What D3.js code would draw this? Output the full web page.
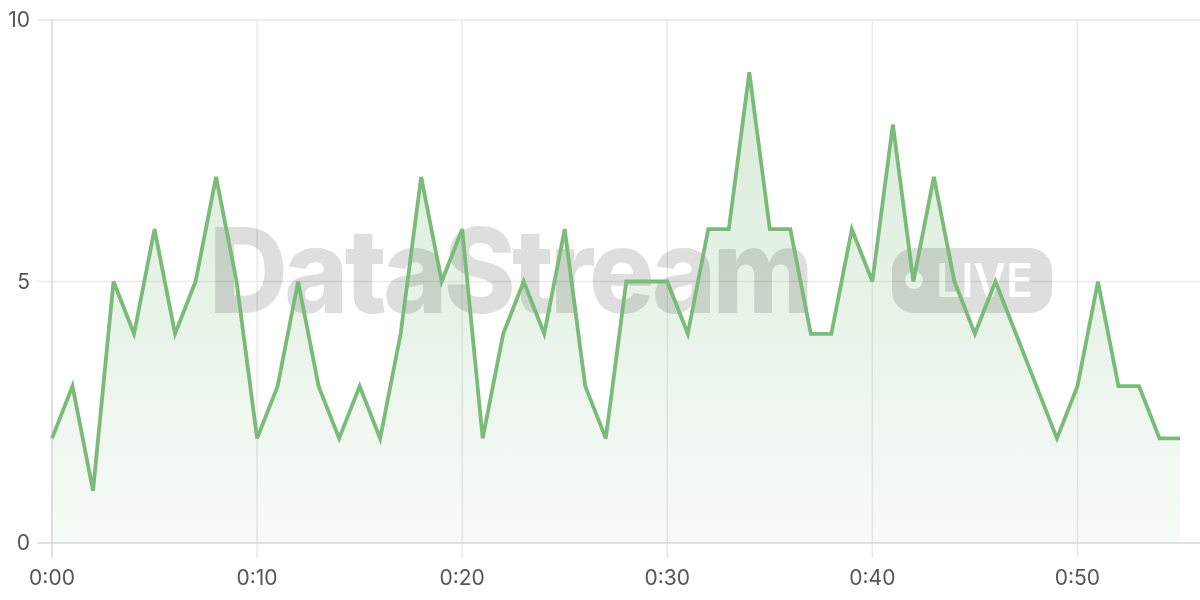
<!DOCTYPE html>
<html>
<head>
<meta charset="utf-8">
<script src="https://cdn.jsdelivr.net/npm/d3@7"></script>
<style>
  body { margin: 0; background: #fff; }
  svg { display: block; font-family: Inter, "Noto Sans", sans-serif; }
</style>
</head>
<body>
<div id="chart"></div>
<script>
// minutes since start, one sample per minute
var minutes = d3.range(0, 56);
var counts = [2, 3, 1, 5, 4, 6, 4, 5, 7, 5,
              2, 3, 5, 3, 2, 3, 2, 4, 7, 5,
              6, 2, 4, 5, 4, 6, 3, 2, 5, 5,
              5, 4, 6, 6, 9, 6, 6, 4, 4, 6,
              5, 8, 5, 7, 5, 4, 5, 4, 3, 2,
              3, 5, 3, 3, 2, 2];
var xTicks = [0, 10, 20, 30, 40, 50];
var yTicks = [0, 5, 10];

var width = 1200;
var height = 600;
var margin = {top: 20, right: 20, bottom: 57, left: 52};

var svg = d3.select('#chart')
    .append('svg')
    .attr('width', width)
    .attr('height', height);

var x = d3.scaleLinear()
    .domain([0, 55])
    .range([margin.left, width - margin.right]);

var y = d3.scaleLinear()
    .domain([0, 10])
    .range([height - margin.bottom, margin.top]);

var data = minutes.map(function(m, i) { return {m: m, v: counts[i]}; });

// gradient for area
var defs = svg.append('defs');
var grad = defs.append('linearGradient')
    .attr('id', 'areaGrad')
    .attr('x1', 0).attr('y1', 0).attr('x2', 0).attr('y2', 1);
grad.append('stop').attr('offset', '0%').attr('stop-color', '#7dbe7d').attr('stop-opacity', 0.3);
grad.append('stop').attr('offset', '100%').attr('stop-color', '#7dbe7d').attr('stop-opacity', 0.06);

// grid
var grid = svg.append('g');
grid.selectAll('line.h')
    .data(yTicks.filter(function(d) { return d > 0; }))
    .enter()
    .append('line')
    .attr('x1', margin.left - 15)
    .attr('x2', width)
    .attr('y1', function(d) { return y(d); })
    .attr('y2', function(d) { return y(d); })
    .attr('stroke', '#e9e9e9')
    .attr('stroke-width', 1.5);
grid.selectAll('line.v')
    .data(xTicks.filter(function(d) { return d > 0; }))
    .enter()
    .append('line')
    .attr('x1', function(d) { return x(d); })
    .attr('x2', function(d) { return x(d); })
    .attr('y1', margin.top)
    .attr('y2', y(0) + 15)
    .attr('stroke', '#e9e9e9')
    .attr('stroke-width', 1.5);

// area
svg.append('path')
    .datum(data)
    .attr('fill', 'url(#areaGrad)')
    .attr('d', d3.area()
        .x(function(d) { return x(d.m); })
        .y0(y(0))
        .y1(function(d) { return y(d.v); }));

// axes lines
svg.append('line')
    .attr('x1', x(0)).attr('x2', x(0))
    .attr('y1', margin.top).attr('y2', y(0) + 15)
    .attr('stroke', '#d6d6d6').attr('stroke-width', 1.5);
svg.append('line')
    .attr('x1', margin.left - 15).attr('x2', width)
    .attr('y1', y(0)).attr('y2', y(0))
    .attr('stroke', '#d6d6d6').attr('stroke-width', 1.5);

// watermark (between area and line)
var wm = svg.append('g').attr('opacity', 0.13);
wm.append('text')
    .attr('x', 209)
    .attr('y', 313)
    .attr('textLength', 601)
    .attr('lengthAdjust', 'spacingAndGlyphs')
    .attr('fill', '#000')
    .style('font-size', '118px')
    .style('font-weight', 800)
    .style('letter-spacing', '-4px')
    .text('DataStream');

var mask = defs.append('mask').attr('id', 'liveMask');
mask.append('rect').attr('x', 892).attr('y', 248).attr('width', 160).attr('height', 65).attr('rx', 22).attr('fill', '#fff');
mask.append('circle').attr('cx', 914).attr('cy', 280).attr('r', 9).attr('fill', '#000');
mask.append('text')
    .attr('x', 936)
    .attr('y', 297)
    .attr('textLength', 97)
    .attr('lengthAdjust', 'spacingAndGlyphs')
    .attr('fill', '#000')
    .style('font-size', '47px')
    .style('font-weight', 600)
    .text('LIVE');
wm.append('rect')
    .attr('x', 892).attr('y', 248).attr('width', 160).attr('height', 65)
    .attr('fill', '#000')
    .attr('mask', 'url(#liveMask)');

// line
svg.append('path')
    .datum(data)
    .attr('fill', 'none')
    .attr('stroke', '#7abb7a')
    .attr('stroke-width', 3.8)
    .attr('stroke-linejoin', 'miter')
    .attr('d', d3.line()
        .x(function(d) { return x(d.m); })
        .y(function(d) { return y(d.v); }));

// tick labels
svg.append('g')
    .selectAll('text')
    .data(yTicks)
    .enter()
    .append('text')
    .attr('x', 30)
    .attr('y', function(d) { return y(d); })
    .attr('dy', '0.35em')
    .attr('text-anchor', 'end')
    .attr('fill', '#555')
    .style('font-size', '21px')
    .text(function(d) { return d; });

svg.append('g')
    .selectAll('text')
    .data(xTicks)
    .enter()
    .append('text')
    .attr('x', function(d) { return x(d); })
    .attr('y', 578)
    .attr('dy', '0.35em')
    .attr('text-anchor', 'middle')
    .attr('fill', '#555')
    .style('font-size', '21px')
    .text(function(d) { return '0:' + d3.format('02d')(d); });
</script>
</body>
</html>
